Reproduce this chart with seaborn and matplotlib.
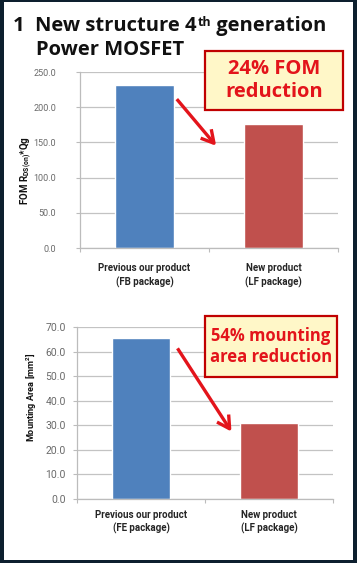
import matplotlib
matplotlib.use("Agg")
import matplotlib.pyplot as plt
import seaborn as sns
import pandas as pd
from matplotlib.patches import Rectangle, FancyArrowPatch

sns.set_theme(style="white")
plt.rcParams["font.family"] = ["Liberation Sans Narrow", "Roboto", "DejaVu Sans"]

# --- dane ---
fom_products = ["Previous our product\n(FB package)", "New product\n(LF package)"]
fom_values = [231.5, 176.0]
fom_ticks = [0, 50, 100, 150, 200, 250]

area_products = ["Previous our product\n(FE package)", "New product\n(LF package)"]
area_values = [65.7, 31.0]
area_ticks = [0, 10, 20, 30, 40, 50, 60, 70]

bar_colors = ["#4F81BD", "#C0504D"]

W, H = 357, 563
TITLE_FONT = ["Open Sans", "DejaVu Sans"]
RED = "#E3141B"


def px_axes(fig, left, top, right, bottom, **kw):
    return fig.add_axes([left / W, 1 - bottom / H, (right - left) / W, (bottom - top) / H], **kw)


def draw_bars(ax, labels, values, ticks, ylabel, ylabel_size, tick_size, tick_pad,
              label_x, label_y, xlab_pad):
    df = pd.DataFrame({"product": labels, "value": values})
    sns.barplot(data=df, x="product", y="value", hue="product", palette=bar_colors,
                width=0.45, saturation=1, legend=False, ax=ax)
    ax.set_xlim(-0.5, 1.5)
    ax.set_ylim(ticks[0], ticks[-1])
    ax.set_yticks(ticks)
    ax.set_yticklabels([f"{t:.1f}" for t in ticks])
    ax.yaxis.grid(True, color="#c3c3c3", lw=0.9)
    ax.set_axisbelow(True)
    ax.set_facecolor("white")
    for s in ("top", "right"):
        ax.spines[s].set_visible(False)
    for s in ("left", "bottom"):
        ax.spines[s].set_color("#bcbcbc")
        ax.spines[s].set_linewidth(0.9)
    ax.tick_params(axis="y", which="major", left=True, length=3, width=0.8, color="#bcbcbc",
                   pad=tick_pad, labelsize=tick_size, labelcolor="#6a6a6a")
    # w stylu Excela: kreski osi X na granicach kategorii
    ax.set_xticks([-0.5, 0.5, 1.5], minor=True)
    ax.tick_params(axis="x", which="minor", bottom=True, length=3, width=0.8, color="#bcbcbc")
    ax.tick_params(axis="x", which="major", bottom=False, pad=xlab_pad, labelsize=7)
    for lab in ax.get_xticklabels():
        lab.set_fontweight("bold")
        lab.set_linespacing(1.35)
    ax.set_xlabel("")
    ax.set_ylabel(ylabel, fontsize=ylabel_size, fontweight="bold", color="#111111")
    ax.yaxis.set_label_coords(label_x, label_y)


fig = plt.figure(figsize=(W / 100, H / 100), dpi=100, facecolor="#0d1f2e")
fig.add_artist(Rectangle((4 / W, 3 / H), 349 / W, 558 / H, transform=fig.transFigure,
                         facecolor="white", edgecolor="none", zorder=-1))

ax1 = px_axes(fig, 80, 72, 338, 248)
draw_bars(ax1, fom_products, fom_values, fom_ticks,
          "FOM R$_{\\mathregular{DS(on)}}$*Qg", ylabel_size=7, tick_size=6.5, tick_pad=14,
          label_x=-0.18, label_y=0.44, xlab_pad=5)

ax2 = px_axes(fig, 77, 327, 333, 499)
draw_bars(ax2, area_products, area_values, area_ticks,
          "Mounting Area [mm$^{\\mathregular{2}}$]", ylabel_size=6.6, tick_size=7.5, tick_pad=5,
          label_x=-0.15, label_y=0.59, xlab_pad=2)

# warstwa nakładki w pikselach (tytuł, ramki, strzałki)
ov = fig.add_axes([0, 0, 1, 1], zorder=10)
ov.set_xlim(0, W)
ov.set_ylim(H, 0)
ov.axis("off")
ov.patch.set_alpha(0)

t1 = ov.text(13, 31, "1  New structure 4", fontsize=14.5, fontweight="bold",
             family=TITLE_FONT, color="#111111", va="baseline")
t2 = ov.annotate("th", xy=(1, 1), xycoords=t1, xytext=(0.5, 0), textcoords="offset points",
                 fontsize=9, fontweight="bold", family=TITLE_FONT, color="#111111", va="top")
ov.annotate(" generation", xy=(1, 0), xycoords=(t2, t1), fontsize=14.5, fontweight="bold",
            family=TITLE_FONT, color="#111111", va="bottom")
ov.text(36, 55, "Power MOSFET", fontsize=14.5, fontweight="bold", family=TITLE_FONT,
        color="#111111", va="baseline")


def callout(x0, y0, x1, y1, text, size):
    ov.add_patch(Rectangle((x0, y0), x1 - x0, y1 - y0, facecolor="#FFF7C8",
                           edgecolor="#C00000", lw=1.6))
    ov.text((x0 + x1) / 2, (y0 + y1) / 2, text, ha="center", va="center", fontsize=size,
            fontweight="bold", family=TITLE_FONT, color=RED, linespacing=1.15)


def arrow(p0, p1):
    ov.add_patch(FancyArrowPatch(p0, p1, arrowstyle="->,head_length=9,head_width=5",
                                 color=RED, lw=2.4, mutation_scale=1, capstyle="butt"))


callout(205, 51, 343, 110, "24% FOM\nreduction", 14.5)
arrow((175, 97), (218, 148))

callout(205, 316, 337, 377, "54% mounting\narea reduction", 12)
arrow((176, 346), (233, 434))

fig.savefig("out.png", dpi=100, facecolor=fig.get_facecolor())
